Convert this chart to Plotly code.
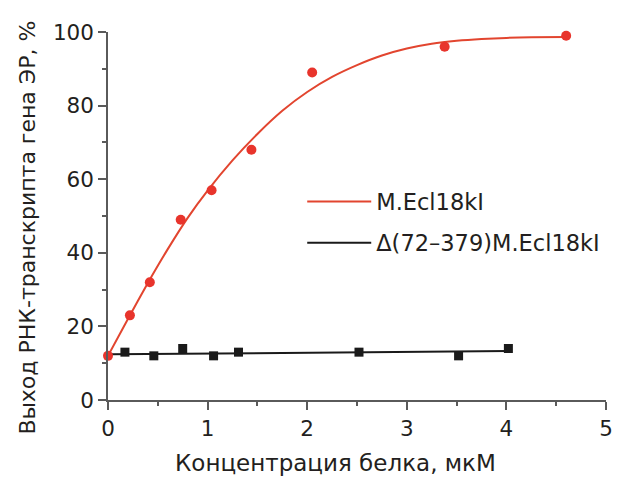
import plotly.graph_objects as go

# Data
red_x = [0.0, 0.22, 0.42, 0.73, 1.04, 1.44, 2.05, 3.38, 4.6]
red_y = [12, 23, 32, 49, 57, 68, 89, 96, 99]

fit_red_x = [0, 0.2, 0.4, 0.6, 0.8, 1.0, 1.25, 1.5, 1.75, 2.0, 2.25, 2.5, 2.75,
             3.0, 3.25, 3.5, 3.75, 4.0, 4.25, 4.6]
fit_red_y = [12, 22.0, 31.8, 41.0, 49.5, 56.9, 65.1, 72.3, 78.6, 83.7, 87.8, 91.0, 93.6,
             95.5, 96.8, 97.6, 98.1, 98.4, 98.55, 98.65]

black_x = [0.17, 0.46, 0.75, 1.06, 1.31, 2.52, 3.52, 4.02]
black_y = [13, 12, 14, 12, 13, 13, 12, 14]

fit_black_x = [0.02, 4.02]
fit_black_y = [12.4, 13.3]

name_red = "M.Ecl18kI"
name_black = "Δ(72–379)M.Ecl18kI"
x_title = "Концентрация белка, мкМ"
y_title = "Выход РНК-транскрипта гена ЭР, %"

RED = "#e8342c"
REDLINE = "#e2452f"
BLACK = "#1a1a1a"
AX = "#5a5a5a"
TXT = "#231f20"
FONT = "DejaVu Sans"

fig = go.Figure()
fig.add_trace(go.Scatter(x=fit_red_x, y=fit_red_y, mode="lines", name=name_red,
                         legendgroup="a",
                         line=dict(color=REDLINE, width=2, shape="spline", smoothing=0.6)))
fig.add_trace(go.Scatter(x=fit_black_x, y=fit_black_y, mode="lines", name=name_black,
                         legendgroup="b",
                         line=dict(color=BLACK, width=2)))
fig.add_trace(go.Scatter(x=red_x, y=red_y, mode="markers", showlegend=False,
                         marker=dict(color=RED, size=10, symbol="circle"), cliponaxis=False))
fig.add_trace(go.Scatter(x=black_x, y=black_y, mode="markers", showlegend=False,
                         marker=dict(color=BLACK, size=9, symbol="square"), cliponaxis=False))

axis_common = dict(showline=True, linecolor=AX, linewidth=1.5, ticks="outside",
                   ticklen=8, tickwidth=1.5, tickcolor=AX, showgrid=False, zeroline=False,
                   ticklabeloverflow="allow",
                   tickfont=dict(family=FONT, size=21.5, color=TXT))
fig.update_xaxes(range=[0, 5], dtick=1, tick0=0,
                 minor=dict(ticks="outside", ticklen=4, tickcolor=AX, dtick=0.5, tickwidth=1.5),
                 **axis_common)
fig.update_yaxes(range=[0, 100], dtick=20, tick0=0,
                 minor=dict(ticks="outside", ticklen=4, tickcolor=AX, dtick=10, tickwidth=1.5),
                 **axis_common)

# page body has an 8px margin; compensate so the plot lands where the reference has it
fig.update_layout(
    width=627, height=469,
    margin=dict(l=100, r=29, t=12, b=77),
    plot_bgcolor="white", paper_bgcolor="white",
    font=dict(family=FONT, color=TXT),
    legend=dict(x=0.39, y=0.483, xanchor="left", yanchor="middle",
                bgcolor="rgba(0,0,0,0)", font=dict(family=FONT, size=22.5, color=TXT),
                itemwidth=64, tracegroupgap=9),
    annotations=[
        dict(text=x_title, xref="paper", yref="paper", x=(335 - 108) / 498, y=(400 - 465) / 380,
             xanchor="center", yanchor="middle", showarrow=False,
             font=dict(family=FONT, size=23, color=TXT)),
        dict(text=y_title, xref="paper", yref="paper", x=(28 - 108) / 498, y=(400 - 222) / 380,
             xanchor="center", yanchor="middle", textangle=-90, showarrow=False,
             font=dict(family=FONT, size=22, color=TXT)),
    ],
)

fig.write_html("out.html")
